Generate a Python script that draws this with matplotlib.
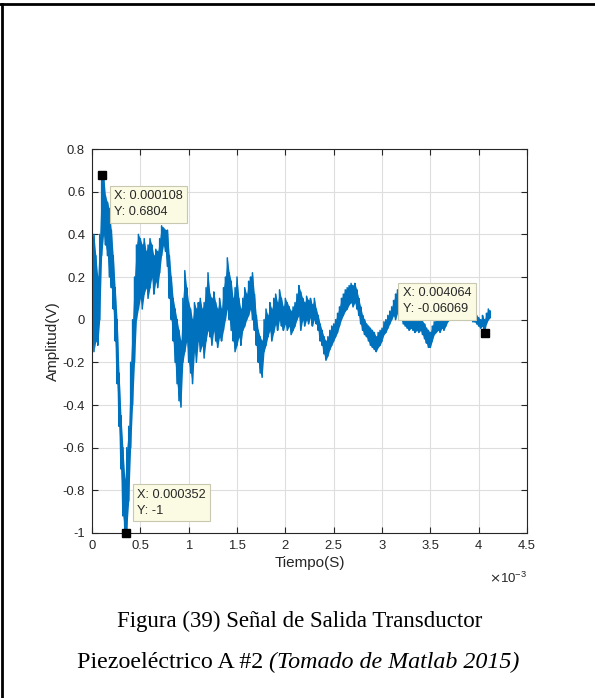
import matplotlib.pyplot as plt
import numpy as np
from matplotlib.lines import Line2D
from matplotlib.ticker import FuncFormatter, MultipleLocator

plt.rcParams['font.family'] = ['Liberation Sans', 'DejaVu Sans']
plt.rcParams['axes.unicode_minus'] = False

# signal envelope (time in ms, amplitude in V)
t_ms = np.round(np.arange(0, 4.13, 0.02), 2)
lo = [0.15, -0.15, -0.10, -0.12, 0.00, 0.30, 0.40, 0.35, 0.30, 0.20,
      0.15, 0.05, -0.10, -0.30, -0.50, -0.70, -0.92, -1.00, -0.98, -0.85,
      -0.60, -0.40, -0.20, 0.00, 0.05, 0.10, 0.05, 0.12, 0.15, 0.10,
      0.15, 0.20, 0.12, 0.18, 0.15, 0.22, 0.30, 0.35, 0.32, 0.25,
      0.10, 0.00, -0.10, -0.20, -0.30, -0.38, -0.41, -0.20, -0.15, -0.10,
      -0.20, -0.25, -0.30, -0.15, -0.20, -0.10, -0.15, -0.12, -0.18, -0.10,
      -0.05, -0.08, -0.12, -0.05, -0.10, -0.13, -0.08, -0.10, -0.05, 0.00,
      0.05, 0.00, -0.05, -0.10, -0.15, -0.12, -0.08, -0.12, -0.05, -0.03,
      0.00, 0.02, 0.05, 0.00, -0.05, -0.12, -0.20, -0.25, -0.27, -0.15,
      -0.12, -0.08, -0.05, -0.10, -0.06, -0.02, -0.05, 0.00, -0.03, -0.05,
      -0.02, -0.05, -0.03, -0.07, -0.05, -0.03, 0.00, 0.02, -0.05, 0.00,
      -0.03, 0.00, -0.02, 0.01, -0.03, 0.00, -0.02, -0.05, -0.10, -0.12,
      -0.16, -0.19, -0.17, -0.14, -0.12, -0.10, -0.08, -0.06, -0.03, 0.00,
      0.02, 0.04, 0.05, 0.07, 0.08, 0.06, 0.08, 0.05, 0.02, -0.02,
      -0.05, -0.07, -0.08, -0.10, -0.12, -0.13, -0.14, -0.15, -0.13, -0.12,
      -0.10, -0.07, -0.06, -0.04, -0.02, 0.00, 0.02, 0.00, 0.03, 0.02,
      0.00, -0.02, -0.03, -0.04, -0.05, -0.04, -0.05, -0.06, -0.05, -0.06,
      -0.05, -0.07, -0.09, -0.11, -0.13, -0.13, -0.10, -0.07, -0.06, -0.05,
      -0.06, -0.04, -0.05, -0.03, -0.01, 0.00, 0.01, 0.02, 0.01, 0.02,
      0.03, 0.02, 0.01, 0.02, 0.00, 0.01, 0.00, -0.01, -0.01, -0.02,
      -0.03, -0.04, -0.03, -0.06, -0.02, 0.00, 0.01]
hi = [0.38, 0.40, 0.30, 0.20, 0.40, 0.66, 0.68, 0.58, 0.55, 0.52,
      0.42, 0.30, 0.15, 0.00, -0.25, -0.45, -0.60, -0.75, -0.60, -0.50,
      -0.20, 0.00, 0.20, 0.35, 0.40, 0.38, 0.35, 0.38, 0.32, 0.35,
      0.38, 0.35, 0.30, 0.33, 0.32, 0.38, 0.44, 0.43, 0.42, 0.42,
      0.30, 0.20, 0.10, 0.05, 0.00, -0.05, -0.10, 0.10, 0.23, 0.15,
      0.08, 0.05, 0.00, 0.08, 0.05, 0.08, 0.10, 0.05, 0.08, 0.15,
      0.22, 0.12, 0.10, 0.13, 0.08, 0.05, 0.10, 0.05, 0.15, 0.20,
      0.29, 0.22, 0.18, 0.10, 0.15, 0.20, 0.10, 0.05, 0.10, 0.15,
      0.12, 0.18, 0.20, 0.22, 0.12, 0.02, -0.05, -0.08, -0.10, 0.00,
      0.05, 0.02, 0.08, 0.05, 0.10, 0.12, 0.08, 0.14, 0.10, 0.06,
      0.10, 0.08, 0.06, 0.04, 0.06, 0.08, 0.12, 0.16, 0.13, 0.10,
      0.08, 0.11, 0.09, 0.10, 0.07, 0.10, 0.05, 0.02, -0.02, -0.05,
      -0.08, -0.10, -0.08, -0.05, -0.03, -0.02, 0.00, 0.03, 0.06, 0.10,
      0.12, 0.14, 0.15, 0.16, 0.17, 0.16, 0.17, 0.14, 0.10, 0.06,
      0.02, 0.00, -0.02, -0.03, -0.04, -0.05, -0.06, -0.08, -0.06, -0.05,
      -0.04, -0.01, 0.00, 0.02, 0.04, 0.06, 0.09, 0.12, 0.14, 0.10,
      0.08, 0.06, 0.05, 0.04, 0.03, 0.02, 0.02, 0.00, 0.01, 0.00,
      0.02, -0.01, -0.02, -0.04, -0.05, -0.06, -0.03, -0.01, 0.00, 0.01,
      0.00, 0.01, 0.00, 0.02, 0.04, 0.05, 0.06, 0.07, 0.06, 0.08,
      0.08, 0.07, 0.06, 0.07, 0.05, 0.05, 0.04, 0.03, 0.03, 0.02,
      0.01, 0.00, 0.02, 0.00, 0.03, 0.05, 0.04]

# data tips: (time in s, amplitude)
tips_x = [0.000108, 0.000352, 0.004064]
tips_y = [0.6804, -1, -0.06069]
tips_lbl = ['X: 0.000108\nY: 0.6804', 'X: 0.000352\nY: -1', 'X: 0.004064\nY: -0.06069']
tips_txt_pos = [(0.228e-3, 0.5415), (0.466e-3, -0.858), (3.217e-3, 0.0867)]

blue = '#0072BD'
axc = '#262626'

fig = plt.figure(figsize=(5.95, 6.98), dpi=100)
ax = fig.add_axes([0.1546, 0.2364, 0.8857 - 0.1546, 0.7865 - 0.2364])

t_s = t_ms * 1e-3
xs = np.repeat(t_s, 2)
ys = np.column_stack([lo, hi]).ravel()
ax.fill_between(t_s, lo, hi, color=blue, lw=0, zorder=2)
ax.plot(xs, ys, color=blue, lw=1.1, zorder=2)

ax.plot(tips_x, tips_y, 's', color='black', ms=6, zorder=6, clip_on=False)
for (tx, ty), lbl in zip(tips_txt_pos, tips_lbl):
    ax.text(tx, ty, lbl, ha='left', va='center', fontsize=9.2, color=axc,
            linespacing=1.45, zorder=5,
            bbox=dict(boxstyle='square,pad=0.35', fc='#fbfbe4', ec='#c8c8b0', lw=0.8))

ax.set_xlim(0, 4.5e-3)
ax.set_ylim(-1, 0.8)
ax.xaxis.set_major_locator(MultipleLocator(0.5e-3))
ax.yaxis.set_major_locator(MultipleLocator(0.2))
ax.xaxis.set_major_formatter(FuncFormatter(lambda v, p: '%g' % round(v * 1e3, 3)))
ax.yaxis.set_major_formatter(FuncFormatter(lambda v, p: '%g' % round(v, 3)))
ax.grid(True, color='#dedede', lw=0.8)
ax.set_axisbelow(True)
for s in ax.spines.values():
    s.set_color(axc)
    s.set_linewidth(0.8)
ax.tick_params(direction='in', length=4, width=0.8, colors=axc, labelsize=9.4,
               top=True, right=True, pad=5)

ax.set_xlabel('Tiempo(S)', fontsize=11, color=axc, labelpad=3)
ax.set_ylabel('Amplitud(V)', fontsize=11, color=axc, labelpad=2)
ax.text(1.0, -0.117, r'$\times\mathregular{10^{-3}}$', transform=ax.transAxes,
        ha='right', va='center', fontsize=9.5, color=axc)

# page frame lines
fig.add_artist(Line2D([0, 1], [1 - 4 / 698, 1 - 4 / 698], color='black', lw=2,
                      transform=fig.transFigure))
fig.add_artist(Line2D([2 / 595, 2 / 595], [0, 1 - 4 / 698], color='black', lw=2,
                      transform=fig.transFigure))

# caption
serif = ['Liberation Serif', 'DejaVu Serif']
fig.text(300 / 595, 1 - 621 / 698, 'Figura (39) Señal de Salida Transductor',
         ha='center', va='center', fontsize=16.5, family=serif)
part1 = 'Piezoeléctrico A #2 '
part2 = '(Tomado de Matlab 2015)'
r = fig.canvas.get_renderer()
a = fig.text(0, 1 - 662 / 698, part1, ha='left', va='center', fontsize=17.3, family=serif)
b = fig.text(0, 1 - 662 / 698, part2, ha='left', va='center', fontsize=17.3, family=serif,
             style='italic')
w1 = a.get_window_extent(r).width
w2 = b.get_window_extent(r).width
x0 = 298.5 - (w1 + w2) / 2
a.set_x(x0 / 595)
b.set_x((x0 + w1) / 595)

fig.savefig('out.png', dpi=100)
